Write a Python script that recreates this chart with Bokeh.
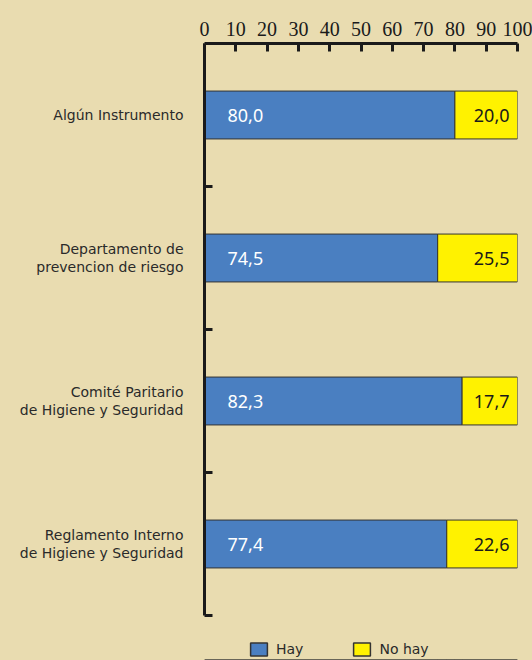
from bokeh.plotting import figure
from bokeh.models import Range1d, FixedTicker, Legend, LegendItem, ColumnDataSource
from bokeh.layouts import column
from bokeh.core.properties import value
from bokeh.embed import file_html
from bokeh.resources import INLINE

categories = ["Algún Instrumento",
              "Departamento de\nprevencion de riesgo",
              "Comité Paritario\nde Higiene y Seguridad",
              "Reglamento Interno\nde Higiene y Seguridad"]
hay = [80.0, 74.5, 82.3, 77.4]
no_hay = [20.0, 25.5, 17.7, 22.6]
x_ticks = [0, 10, 20, 30, 40, 50, 60, 70, 80, 90, 100]
series_names = ["Hay", "No hay"]

BG = "#e9dcb0"
BLUE = "#4a7fc1"
YELLOW = "#fff200"
EDGE = "#333333"
LABEL_FONT = "DejaVu Sans"
VALUE_FONT = "Noto Sans"

n = len(categories)
centers = [i + 0.5 for i in range(n)]
bounds = [float(i) for i in range(1, n + 1)]
totals = [h + k for h, k in zip(hay, no_hay)]

def fmt(v):
    return f"{v:.1f}".replace(".", ",")

p = figure(width=532, height=620, x_range=Range1d(0, 100), y_range=Range1d(n, 0),
           output_backend="svg", toolbar_location=None, x_axis_location="above",
           min_border_left=204, min_border_right=15, min_border_top=43, min_border_bottom=5)
p.background_fill_color = BG
p.border_fill_color = BG
p.outline_line_color = None
p.grid.visible = False
p.styles = {"background-color": BG}

src = ColumnDataSource(dict(y=centers, hay=hay, no_hay=no_hay, total=totals,
                            zero=[0] * n,
                            hay_txt=[fmt(v) for v in hay],
                            no_txt=[fmt(v) for v in no_hay]))

p.hbar(y="y", left="zero", right="hay", height=0.335, source=src,
       fill_color=BLUE, line_color=EDGE, line_width=1)
p.hbar(y="y", left="hay", right="total", height=0.335, source=src,
       fill_color=YELLOW, line_color=EDGE, line_width=1)

p.text(x="zero", y="y", text="hay_txt", source=src, x_offset=23,
       text_align="left", text_baseline="middle", text_color="white",
       text_font=value(VALUE_FONT), text_font_size="18px")
p.text(x="total", y="y", text="no_txt", source=src, x_offset=-8,
       text_align="right", text_baseline="middle", text_color="#1a1a1a",
       text_font=value(VALUE_FONT), text_font_size="18px")

# top axis
xa = p.xaxis[0]
xa.ticker = FixedTicker(ticks=x_ticks)
xa.major_tick_in = 8
xa.major_tick_out = 0
xa.minor_tick_line_color = None
xa.major_tick_line_width = 3
xa.axis_line_width = 3
xa.axis_line_color = "#1a1a1a"
xa.major_tick_line_color = "#1a1a1a"
xa.major_label_text_font = "Liberation Serif"
xa.major_label_text_font_size = "20px"
xa.major_label_text_color = "#1a1a1a"
xa.major_label_standoff = 8

# left axis
ya = p.yaxis[0]
ya.ticker = FixedTicker(ticks=centers, minor_ticks=bounds)
ya.major_tick_in = 0
ya.major_tick_out = 0
ya.minor_tick_in = 8
ya.minor_tick_out = 0
ya.minor_tick_line_width = 3
ya.minor_tick_line_color = "#1a1a1a"
ya.axis_line_width = 3
ya.axis_line_color = "#1a1a1a"
ya.major_label_overrides = {c: lab for c, lab in zip(centers, categories)}
ya.major_label_text_font = LABEL_FONT
ya.major_label_text_font_size = "14px"
ya.major_label_text_color = "#2a2a2a"
ya.major_label_text_line_height = 1.1
ya.major_label_standoff = 21

# legend strip (frames of a column are aligned, so x is measured from x=204);
# its bars lie outside the visible range, only the legend shows
lf = figure(width=532, height=40, x_range=Range1d(0, 100), y_range=Range1d(n + 6, n + 7),
            output_backend="svg", toolbar_location=None,
            x_axis_type=None, y_axis_type=None, min_border=0)
lf.background_fill_color = BG
lf.border_fill_color = BG
lf.outline_line_color = None
lf.grid.visible = False
lf.styles = {"background-color": BG}
l1 = lf.hbar(y="y", left="zero", right="hay", height=0.335, source=src,
             fill_color=BLUE, line_color=EDGE, line_width=1.5)
l2 = lf.hbar(y="y", left="hay", right="total", height=0.335, source=src,
             fill_color=YELLOW, line_color=EDGE, line_width=1.5)
legend = Legend(items=[LegendItem(label=series_names[0], renderers=[l1]),
                       LegendItem(label=series_names[1], renderers=[l2])],
                orientation="horizontal", location=(44, 3),
                background_fill_alpha=0, border_line_color=None,
                glyph_width=21, glyph_height=16, label_standoff=7,
                spacing=48, padding=0, margin=0,
                label_text_font=LABEL_FONT, label_text_font_size="14px",
                label_text_color="#2a2a2a")
lf.add_layout(legend, "center")

layout = column(p, lf, spacing=0, styles={"background-color": BG})
open("out.html", "w").write(file_html(layout, INLINE))
